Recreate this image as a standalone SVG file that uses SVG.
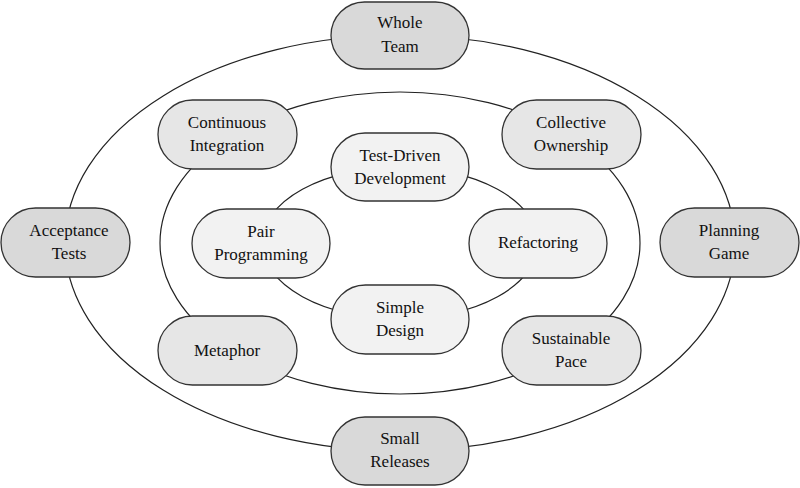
<svg xmlns="http://www.w3.org/2000/svg" width="800" height="488" viewBox="0 0 800 488">
<style>
.ring{fill:none;stroke:#222;stroke-width:1.2}
.n rect{stroke:#333;stroke-width:1.3}
.o rect{fill:#d9d9d9}
.m rect{fill:#e6e6e6}
.i rect{fill:#f2f2f2}
.n text{font-size:17px;fill:#111;text-anchor:middle}
</style>
<rect width="800" height="488" fill="#fff"/>
<g id="connectors">
<ellipse class="ring" cx="400" cy="243" rx="335" ry="208"/>
<ellipse class="ring" cx="400" cy="243" rx="240" ry="151"/>
<ellipse class="ring" cx="400" cy="243" rx="138" ry="76"/>
</g>
<g font-family="Liberation Serif, DejaVu Serif, serif">
<g id="whole-team" class="n o"><rect x="331" y="2" width="138" height="67" rx="33.5"/><text x="400" y="28">Whole</text><text x="400" y="52">Team</text></g>
<g id="small-releases" class="n o"><rect x="331" y="417" width="138" height="68" rx="34"/><text x="400" y="444">Small</text><text x="400" y="467">Releases</text></g>
<g id="acceptance-tests" class="n o"><rect x="1" y="208" width="129" height="69" rx="34.5"/><text x="69" y="236">Acceptance</text><text x="69" y="259">Tests</text></g>
<g id="planning-game" class="n o"><rect x="660" y="208" width="139" height="69" rx="34.5"/><text x="729" y="236">Planning</text><text x="729" y="259">Game</text></g>
<g id="continuous-integration" class="n m"><rect x="158" y="100" width="139" height="69" rx="34.5"/><text x="227" y="128">Continuous</text><text x="227" y="151">Integration</text></g>
<g id="collective-ownership" class="n m"><rect x="502" y="100" width="139" height="69" rx="34.5"/><text x="571" y="128">Collective</text><text x="571" y="151">Ownership</text></g>
<g id="metaphor" class="n m"><rect x="158" y="316" width="139" height="69" rx="34.5"/><text x="227" y="356">Metaphor</text></g>
<g id="sustainable-pace" class="n m"><rect x="502" y="316" width="139" height="69" rx="34.5"/><text x="571" y="344">Sustainable</text><text x="571" y="367">Pace</text></g>
<g id="test-driven-development" class="n i"><rect x="331" y="133" width="138" height="68" rx="34"/><text x="400" y="161">Test-Driven</text><text x="400" y="184">Development</text></g>
<g id="pair-programming" class="n i"><rect x="192" y="209" width="138" height="69" rx="34.5"/><text x="261" y="237">Pair</text><text x="261" y="260">Programming</text></g>
<g id="refactoring" class="n i"><rect x="469" y="209" width="138" height="69" rx="34.5"/><text x="538" y="248">Refactoring</text></g>
<g id="simple-design" class="n i"><rect x="331" y="285" width="138" height="69" rx="34.5"/><text x="400" y="313">Simple</text><text x="400" y="336">Design</text></g>
</g>
</svg>
